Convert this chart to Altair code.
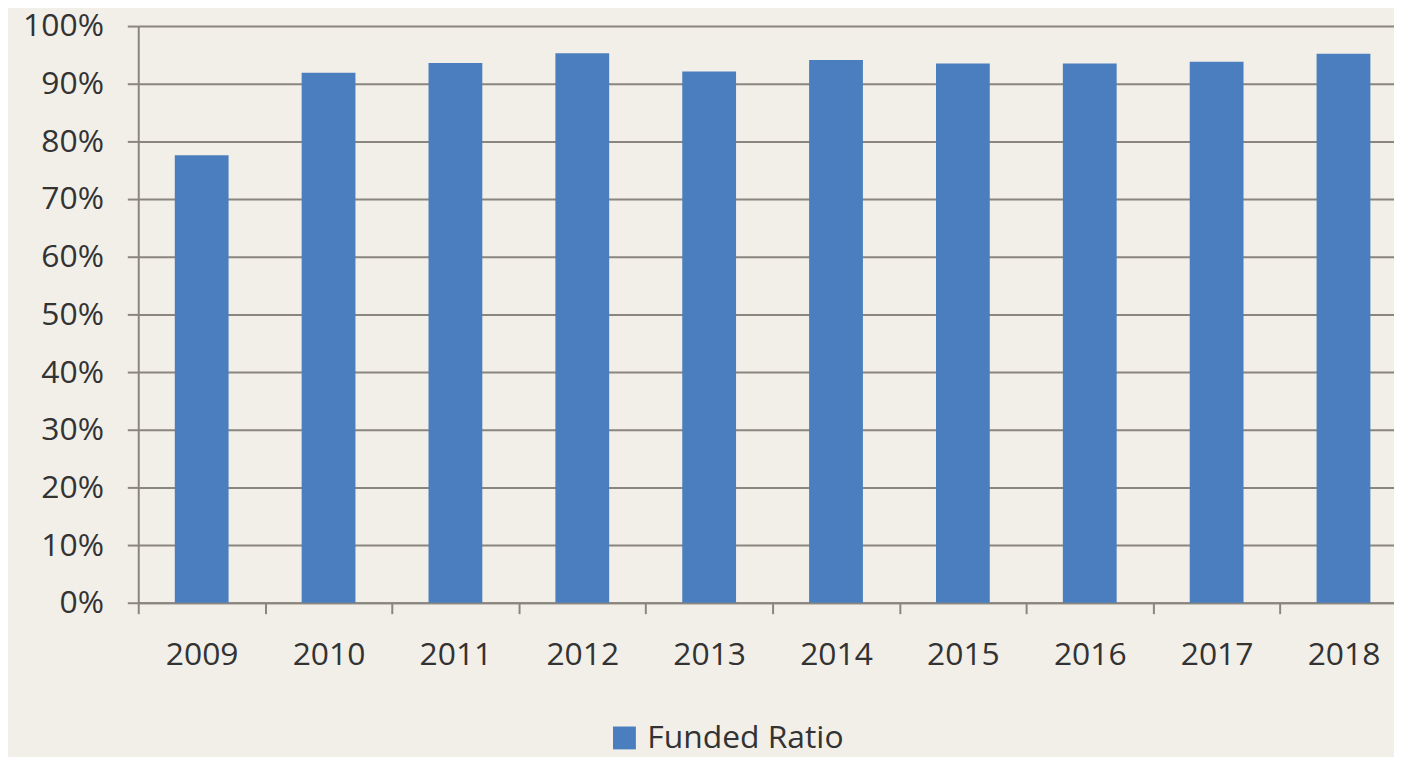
import altair as alt
import pandas as pd

years = ["2009", "2010", "2011", "2012", "2013", "2014", "2015", "2016", "2017", "2018"]
funded_ratio = [0.776, 0.919, 0.936, 0.953, 0.921, 0.941, 0.935, 0.935, 0.938, 0.952]
series_name = "Funded Ratio"
y_ticks = [0.0, 0.1, 0.2, 0.3, 0.4, 0.5, 0.6, 0.7, 0.8, 0.9, 1.0]

df = pd.DataFrame({"year": years, "value": funded_ratio, "series": [series_name] * len(years)})

FONT = "Open Sans"
GRID = "#8a857e"
TEXT = "#333333"
BAR = "#4a7ebf"
BG = "#f2efe9"

chart = alt.Chart(df).mark_bar(color=BAR, width=alt.RelativeBandSize(0.424)).encode(
    x=alt.X(
        "year:N",
        sort=years,
        scale=alt.Scale(range=[0, 1276], paddingInner=0, paddingOuter=0),
        axis=alt.Axis(
            title=None, labelAngle=0, tickBand="extent", grid=False,
            tickSize=11, tickWidth=2, tickColor=GRID,
            domainColor=GRID, domainWidth=2,
            labelFont=FONT, labelFontSize=32, labelColor=TEXT, labelPadding=26,
        ),
    ),
    y=alt.Y(
        "value:Q",
        scale=alt.Scale(domain=[0, 1], nice=False),
        axis=alt.Axis(
            title=None, values=y_ticks, format=".0%",
            grid=True, gridColor=GRID, gridWidth=2,
            tickSize=11, tickWidth=2, tickColor=GRID,
            domainColor=GRID, domainWidth=2,
            labelFont=FONT, labelFontSize=32, labelColor=TEXT, labelPadding=24,
        ),
    ),
    color=alt.Color(
        "series:N",
        scale=alt.Scale(range=[BAR]),
        legend=alt.Legend(
            title=None, orient="none", legendX=473, legendY=700,
            symbolType="square", symbolSize=529, symbolStrokeWidth=0, symbolOpacity=1,
            labelFont=FONT, labelFontSize=32, labelColor=TEXT, labelOffset=7,
            labelLimit=500,
        ),
    ),
).properties(
    width=1262,
    height=580,
    autosize=alt.AutoSizeParams(type="none"),
    padding={"left": 131, "top": 16, "right": 1, "bottom": 153},
).configure(
    background=BG,
).configure_view(
    stroke=None,
)

chart.save("out.html", embed_options={"renderer": "svg", "actions": False})
